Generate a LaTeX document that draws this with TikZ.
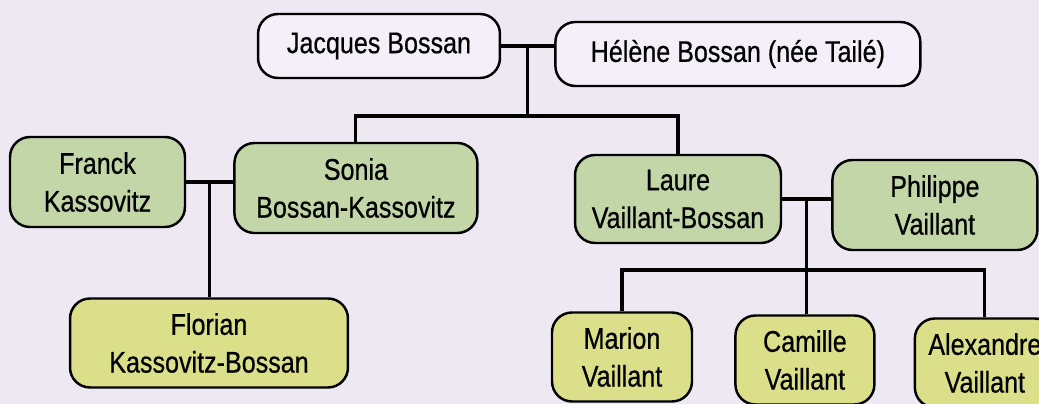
\documentclass[tikz,border=0pt]{standalone}
\usepackage{fontspec}
\setmainfont{Liberation Sans}[FakeStretch=0.84, FakeBold=0.6]
\usepackage{tikz}
\usetikzlibrary{positioning}
\definecolor{paper}{RGB}{238,232,243}
\definecolor{topfill}{RGB}{244,239,248}
\definecolor{greenfill}{RGB}{194,214,168}
\definecolor{yellowfill}{RGB}{219,223,138}
\tikzset{
person/.style={draw, line width=1.4pt, rounded corners=0.4cm, align=center, inner sep=2pt,
  font=\fontsize{17pt}{21.5pt}\selectfont}, % every box of the tree
grand/.style={person, fill=topfill, minimum height=1.28cm}, % first generation
parent/.style={person, fill=greenfill, minimum height=1.8cm}, % second generation
child/.style={person, fill=yellowfill, minimum height=1.78cm}, % third generation
link/.style={line width=1.8pt}, % family lines
}

\begin{document}
\begin{tikzpicture}[x=0.02cm, y=-0.02cm]
    \clip (0,0) rectangle (1039,404);
    \useasboundingbox (0,0) rectangle (1039,404);
    \fill[paper] (0,0) rectangle (1039,404);

    % grandparents
    \node[grand, minimum width=4.84cm] (jacques) at (379,46) {Jacques Bossan};
    \node[grand, minimum width=7.3cm, right=1.06cm of jacques, yshift=-0.16cm] (helene) {Hélène Bossan (née Tailé)};

    % parents
    \node[parent, minimum width=3.5cm] (franck) at (97.5,182) {Franck\\Kassovitz};
    \node[parent, minimum width=4.86cm, right=0.94cm of franck, yshift=-0.12cm] (sonia) {Sonia\\Bossan-Kassovitz};
    \node[parent, minimum width=4.12cm, minimum height=1.76cm] (laure) at (678,199) {Laure\\Vaillant-Bossan};
    \node[parent, minimum width=4.1cm, right=0.98cm of laure, yshift=-0.12cm] (philippe) {Philippe\\Vaillant};

    % children
    \node[child, minimum width=5.56cm] (florian) at (209,343) {Florian\\Kassovitz-Bossan};
    \node[child, minimum width=2.8cm] (marion) at (622,357) {Marion\\Vaillant};
    \node[child, minimum width=2.78cm, right=0.82cm of marion, yshift=-0.06cm] (camille) {Camille\\Vaillant};
    \node[child, minimum width=2.8cm, right=0.76cm of camille, yshift=-0.06cm] (alexandre) {Alexandre\\Vaillant};

    \draw[link] (jacques.east) -- node[coordinate, midway] (jh) {} (jacques.east -| helene.west);
    \path (jh) ++(0,70) coordinate (bar1);
    \draw[link] (jh) -- (bar1);
    \draw[link] (sonia.north) |- (bar1) -| (laure.north);

    \draw[link] (franck.east) -- node[coordinate, midway] (fs) {} (franck.east -| sonia.west);
    \draw[link] (fs) -- (fs |- florian.north);

    \draw[link] (laure.east) -- node[coordinate, midway] (lp) {} (laure.east -| philippe.west);
    \path (lp) ++(0,71) coordinate (bar2);
    \draw[link] (lp) -- (lp |- camille.north);
    \draw[link] (marion.north) |- (bar2) -| (alexandre.north);
\end{tikzpicture}
\end{document}
